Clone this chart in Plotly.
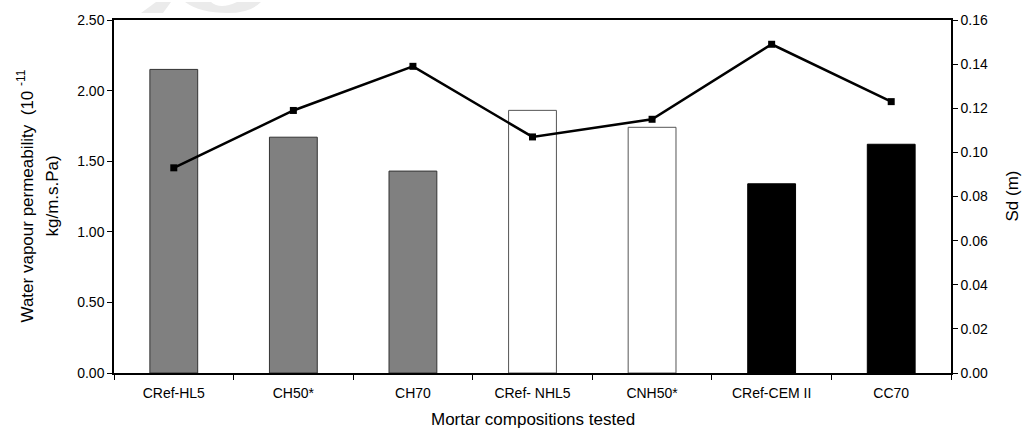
import plotly.graph_objects as go

# Mortar mixes and measured properties
mortars = ["CRef-HL5", "CH50*", "CH70", "CRef- NHL5", "CNH50*", "CRef-CEM II", "CC70"]
permeability = [2.15, 1.67, 1.43, 1.86, 1.74, 1.34, 1.62]   # 10^-11 kg/m.s.Pa
sd_values = [0.093, 0.119, 0.139, 0.107, 0.115, 0.149, 0.123]  # m
bar_fill = ["#808080", "#808080", "#808080", "#ffffff", "#ffffff", "#000000", "#000000"]
bar_edge = ["#333333", "#333333", "#333333", "#555555", "#555555", "#000000", "#000000"]

FONT = "Liberation Sans, Arial, sans-serif"
TITLE_SIZE = 17

fig = go.Figure()

fig.add_trace(go.Bar(
    x=mortars, y=permeability,
    marker=dict(color=bar_fill, line=dict(color=bar_edge, width=1)),
    width=0.4, yaxis="y", showlegend=False,
))

fig.add_trace(go.Scatter(
    x=mortars, y=sd_values, yaxis="y2",
    mode="lines+markers",
    line=dict(color="black", width=2.5),
    marker=dict(symbol="square", size=7, color="black"),
    showlegend=False,
))

# Plot-area edges in pixels
L, R, T, B = 114, 951, 18, 373
def px(x):
    return (x - L) / (R - L)
def py(y):
    return (B - y) / (B - T)

# Faint watermark fragments along the top edge
wm = "#ebebeb"
shapes = [
    dict(type="path", xref="paper", yref="paper", layer="below",
         path=f"M {px(156)} {py(0)} L {px(171)} {py(0)} L {px(163)} {py(11)} L {px(141)} {py(11)} Z",
         fillcolor=wm, line=dict(width=0)),
    dict(type="path", xref="paper", yref="paper", layer="below",
         path=(f"M {px(185)} {py(0)} L {px(211)} {py(0)} Q {px(220)} {py(8)} {px(237)} {py(0)} "
               f"L {px(261)} {py(0)} Q {px(250)} {py(11)} {px(228)} {py(11)} "
               f"Q {px(200)} {py(11)} {px(185)} {py(0)} Z"),
         fillcolor=wm, line=dict(width=0)),
]

title_font = dict(family=FONT, size=TITLE_SIZE, color="black")
annotations = [
    dict(text="Water vapour permeability  (10 <sup>-11</sup>", xref="paper", yref="paper",
         x=px(25), y=0.5, xanchor="center", yanchor="middle",
         textangle=-90, showarrow=False, font=title_font),
    dict(text="kg/m.s.Pa)", xref="paper", yref="paper",
         x=px(52), y=0.5, xanchor="center", yanchor="middle",
         textangle=-90, showarrow=False, font=title_font),
    dict(text="Sd (m)", xref="paper", yref="paper",
         x=px(1012), y=0.5, xanchor="center", yanchor="middle",
         textangle=-90, showarrow=False, font=title_font),
    dict(text="Mortar compositions tested", xref="paper", yref="paper",
         x=0.5, y=py(420), xanchor="center", yanchor="middle",
         showarrow=False, font=title_font),
]

fig.update_layout(
    width=1024, height=430,
    margin=dict(l=L, r=1024 - R, t=T, b=430 - B, pad=0),
    paper_bgcolor="white", plot_bgcolor="white",
    font=dict(family=FONT, size=14, color="black"),
    bargap=0.6,
    shapes=shapes,
    annotations=annotations,
    xaxis=dict(
        type="category", showline=True, linecolor="black", linewidth=1.5, mirror=True,
        ticks="outside", tickson="boundaries", ticklen=5, tickcolor="black",
        ticklabelstandoff=6,
        showgrid=False, zeroline=False,
    ),
    yaxis=dict(
        range=[0, 2.5], dtick=0.5, tickformat=".2f",
        showline=True, linecolor="black", linewidth=1.5,
        ticks="outside", ticklen=5, tickcolor="black",
        showgrid=False, zeroline=False,
    ),
    yaxis2=dict(
        range=[0, 0.16], dtick=0.02, tickformat=".2f",
        overlaying="y", side="right", anchor="x",
        showline=True, linecolor="black", linewidth=1.5,
        ticks="outside", ticklen=5, tickcolor="black",
        showgrid=False, zeroline=False,
    ),
)

fig.write_html("out.html")
